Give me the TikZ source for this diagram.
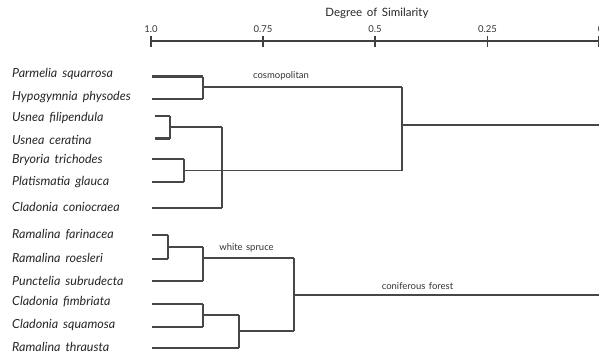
\documentclass[tikz,border=0pt]{standalone}
\usepackage{fontspec}
\setmainfont{Lato}
\begin{document}
\begin{tikzpicture}[x=1pt,y=-1pt,
  leafname/.style={anchor=west,inner sep=0pt,font=\itshape\fontsize{12.5}{12.5}\selectfont,text=black!85,
    execute at begin node={\spaceskip=0.4em plus 0.1em}},
  leafline/.style={draw=black!72,line width=2.2pt},
  branch/.style={draw=black!72,line width=1.6pt},
  axisline/.style={draw=black!75,line width=1.1pt},
  ticklabel/.style={inner sep=0pt,font=\fontsize{9.5}{9.5}\selectfont,text=black!80},
  grouplabel/.style={inner sep=0pt,font=\fontsize{9.5}{9.5}\selectfont,text=black!80}]
\useasboundingbox (0,0) rectangle (599,356);
\clip (0,0) rectangle (599,356);
% axis
\node[inner sep=0pt,font=\fontsize{11.5}{11.5}\selectfont,text=black!85] (title) at (377,13) {Degree\hspace{0.4em}of\hspace{0.4em}Similarity};
\coordinate (a0) at (151,41); \coordinate (a4) at (599,41);
\draw[axisline] (a0) -- (a4);
\foreach \v/\x [count=\i] in {1.0/151,0.75/263,0.5/375,0.25/487.5,0/598.5}{
  \coordinate (t\i) at (\x,41);
  \draw[axisline] ([yshift=-5.5]t\i) -- ([yshift=5.5]t\i);
}
\foreach \v/\x [count=\i] in {1.0/151,0.75/263,0.5/375,0.25/487.5,0/600.5}{
  \node[ticklabel] (l\i) at (\x,29) {\v};
}
% leaf names
\node[leafname] (n1) at (12,74) {Parmelia squarrosa};
\node[leafname] (n2) at (12,97.5) {Hypogymnia physodes};
\node[leafname] (n3) at (12,118) {Usnea filipendula};
\node[leafname] (n4) at (12,140) {Usnea ceratina};
\node[leafname] (n5) at (12,160) {Bryoria trichodes};
\node[leafname] (n6) at (12,182) {Platismatia glauca};
\node[leafname] (n7) at (12,207) {Cladonia coniocraea};
\node[leafname] (n8) at (12,235) {Ramalina farinacea};
\node[leafname] (n9) at (12,258) {Ramalina roesleri};
\node[leafname] (n10) at (12,281) {Punctelia subrudecta};
\node[leafname] (n11) at (12,302) {Cladonia fimbriata};
\node[leafname] (n12) at (12,325) {Cladonia squamosa};
\node[leafname] (n13) at (12,347) {Ramalina thrausta};
% leaf line starts
\coordinate (s1) at (152,76.5); \coordinate (s2) at (152,99);
\coordinate (s3) at (155,116); \coordinate (s4) at (155,138.5);
\coordinate (s5) at (152,159); \coordinate (s6) at (152,182);
\coordinate (s7) at (152,208);
\coordinate (s8) at (152,235); \coordinate (s9) at (152,259);
\coordinate (s10) at (152,281);
\coordinate (s11) at (152,304); \coordinate (s12) at (152,327);
\coordinate (s13) at (152,348);
% join points (x of vertical, y of outgoing line)
\coordinate (A) at (203,87);
\coordinate (B) at (170,127);
\coordinate (C) at (184,170.5);
\coordinate (D) at (222,170.5);
\coordinate (E) at (402,125);
\coordinate (F) at (168,247);
\coordinate (G) at (203,258);
\coordinate (H) at (203,315);
\coordinate (I) at (239,331);
\coordinate (J) at (294,295);
\coordinate (root1) at (599,125);
\coordinate (root2) at (599,295);
% leaves
\draw[leafline] (s1) -- (s1 -| A);
\draw[leafline] (s2) -- (s2 -| A);
\draw[leafline] (s3) -- (s3 -| B);
\draw[leafline] (s4) -- (s4 -| B);
\draw[leafline] (s5) -- (s5 -| C);
\draw[leafline] (s6) -- (s6 -| C);
\draw[leafline] (s7) -- (s7 -| D);
\draw[leafline] (s8) -- (s8 -| F);
\draw[leafline] (s9) -- (s9 -| F);
\draw[leafline] (s10) -- (s10 -| G);
\draw[leafline] (s11) -- (s11 -| H);
\draw[leafline] (s12) -- (s12 -| H);
\draw[leafline] (s13) -- (s13 -| I);
% verticals
\draw[branch] (s1 -| A) -- (s2 -| A);
\draw[branch] (s3 -| B) -- (s4 -| B);
\draw[branch] (s5 -| C) -- (s6 -| C);
\draw[branch] (B -| D) -- (s7 -| D);
\draw[branch] (A -| E) -- (D -| E);
\draw[branch] (s8 -| F) -- (s9 -| F);
\draw[branch] (F -| G) -- (s10 -| G);
\draw[branch] (s11 -| H) -- (s12 -| H);
\draw[branch] (H -| I) -- (s13 -| I);
\draw[branch] (G -| J) -- (I -| J);
% horizontals
\draw[branch] (A) -- (A -| E);
\draw[branch] (B) -- (B -| D);
\draw[branch] (C) -- (D);
\draw[branch] (D) -- (D -| E);
\draw[branch] (E) -- (root1);
\draw[branch] (F) -- (F -| G);
\draw[branch] (G) -- (G -| J);
\draw[branch] (H) -- (H -| I);
\draw[branch] (I) -- (I -| J);
\draw[branch] (J) -- (root2);
% group labels
\node[grouplabel] (g1) at (281,75.5) {cosmopolitan};
\node[grouplabel] (g2) at (246.5,248) {white\hspace{0.35em}spruce};
\node[grouplabel] (g3) at (417.5,286) {coniferous\hspace{0.35em}forest};
\end{tikzpicture}
\end{document}
